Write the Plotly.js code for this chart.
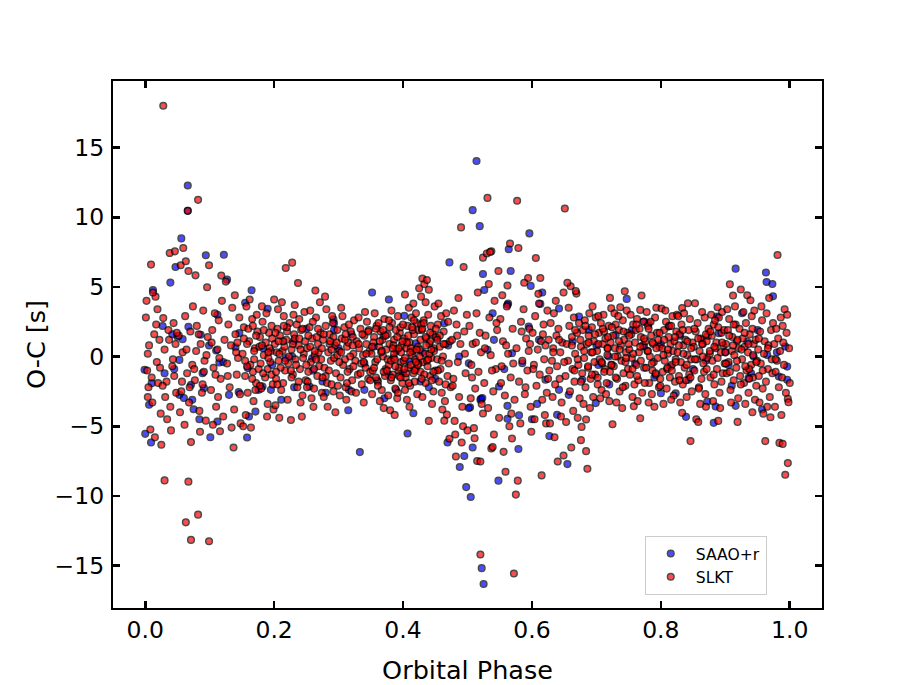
<!DOCTYPE html>
<html><head><meta charset="utf-8">
<script src="https://cdn.plot.ly/plotly-3.0.1.min.js"></script>
<style>html,body{margin:0;padding:0;background:#fff}</style>
</head><body><div id="chart" style="width:913px;height:685px"></div>
<script>
// ---- SAAO+r (blue) ----
const saaoPhase = [
0.066,0.066,0.056,0.047,0.094,0.122,0.039,0.127,0.165,0.012,0.190,0.027,0.067,0.112,0.155,0.292,
0.514,0.508,0.519,0.596,0.564,0.472,0.524,0.567,0.526,0.352,0.378,0.563,0.642,
0.315,0.333,0.416,0.407,0.521,0.504,0.469,0.508,0.495,0.488,0.579,0.562,0.580,0.548,0.498,0.505,0.522,0.525,0.655,0.627,0.600,0.608,
0.000,0.009,0.101,0.158,0.839,0.882,0.957,0.916,0.963,0.964,0.973,0.974,0.747,
0.042,0.050,0.058,0.086,0.110,0.099,0.053,-0.001,0.045,0.115,0.146,0.183,0.228,0.089,0.071,0.091,0.053,0.060,0.073,0.006,0.130,0.161,0.084,0.112,0.197,0.159,0.182,0.231,0.255,0.218,0.259,
0.402,0.293,0.293,0.355,0.275,0.316,0.340,0.371,0.378,0.409,0.453,0.464,0.487,0.502,0.520,0.502,0.539,0.541,0.427,0.389,0.420,
0.562,0.598,0.616,0.673,0.688,0.595,0.611,0.569,0.585,0.531,0.557,0.549,0.523,0.562,0.621,0.642,0.657,0.678,0.699,0.703,0.719,0.730,0.755,0.774,0.639,0.663,0.613,
0.812,0.781,0.887,0.926,0.890,0.864,0.944,0.993,0.996,0.996,0.843,0.800,0.823,0.872,0.916,0.983,0.936,0.905,0.815,0.774,0.934,0.965,0.885,
0.010,0.075,0.121,0.145,0.171,0.176,0.195,0.211,0.140,0.030,
0.230,0.260,0.300,0.340,0.370,0.400,0.430,0.450,0.700,0.760,0.800,0.850,0.900,0.940,0.250,0.280,0.320,0.360,0.390,0.440,0.470,0.720,0.790,0.830,0.870,0.910,0.950,0.980
];
const saaoOC = [
12.28,10.46,8.48,6.43,7.27,7.31,5.31,5.52,4.76,4.77,3.43,2.19,2.14,3.0,3.86,2.67,
14.04,10.51,9.36,8.84,7.7,6.76,5.93,6.14,4.78,4.6,4.1,3.8,3.45,
-3.85,-6.86,-4.07,-5.52,-3.04,-3.64,-6.17,-6.53,-7.14,-7.93,-6.64,-4.47,-4.21,-8.91,-9.37,-10.08,-15.19,-16.33,-7.72,-5.71,-4.5,-3.4,
-5.55,-6.17,-5.79,-5.81,-4.33,-4.76,-3.8,6.31,6.03,5.35,5.21,4.33,4.14,
1.6,1.43,1.25,1.56,0.43,0.79,-0.24,-0.95,-0.9,-0.43,1.68,0.6,0.0,-1.19,-2.03,-2.27,-2.75,-2.98,-3.1,-3.46,-2.75,-4.3,-4.5,-4.66,-0.6,-0.83,-2.15,-2.2,-2.15,-0.12,-0.12,
2.92,2.39,1.91,0.72,-1.79,-2.39,-2.39,-2.99,-1.31,-0.36,1.32,2.39,0.0,-0.48,-3.1,-3.7,3.11,1.2,-1.79,-2.39,0.96,
3.71,5.07,4.6,2.87,1.91,2.15,1.2,0.24,-0.48,0.48,-0.9,-2.15,-2.98,-3.54,-1.67,-2.39,-2.75,-1.67,-3.34,-0.6,0.0,1.56,1.91,2.51,-4.18,1.08,3.78,
2.15,2.39,2.87,3.11,1.68,1.2,0.0,0.72,-0.72,-1.67,-1.67,-2.63,-2.63,-3.23,-3.54,-1.43,-1.55,-0.6,-0.72,0.72,1.08,0.12,-3.59,
-1.91,-3.78,-0.4,-2.55,-3.95,-2.39,-2.39,-3.1,0.67,-1.2,
1.1,-1.0,0.6,-0.5,1.5,-1.2,0.3,-1.6,0.8,-0.5,0.9,-0.9,0.3,-1.2,2.0,-2.6,1.6,-1.7,0.4,-2.2,0.8,-2.0,-1.5,1.5,-0.3,-2.1,1.9,0.3
];

// ---- SLKT (red) ----
const slktPhase = [
0.001,0.002,0.008,0.009,0.016,0.012,0.003,0.005,0.006,0.011,0.014,0.018,0.020,0.022,0.024,0.019,0.004,0.015,
0.028,0.028,0.030,0.025,0.038,0.046,0.034,0.040,0.030,0.033,0.036,0.042,0.044,0.048,0.039,0.047,0.027,0.045,
0.055,0.059,0.063,0.067,0.066,0.067,0.063,0.071,0.071,0.061,0.052,0.056,0.058,0.062,0.065,0.068,0.070,0.073,0.074,0.054,
0.078,0.082,0.082,0.099,0.096,0.099,0.077,0.080,0.084,0.086,0.088,0.090,0.092,0.094,0.097,0.085,0.091,0.079,
0.118,0.125,0.116,0.102,0.104,0.106,0.108,0.110,0.112,0.114,0.117,0.119,0.121,0.123,0.105,0.113,
0.137,0.127,0.129,0.131,0.133,0.135,0.138,0.140,0.142,0.144,0.146,0.148,0.139,0.134,0.147,0.143,
0.152,0.164,0.151,0.153,0.155,0.157,0.159,0.161,0.163,0.166,0.168,0.170,0.172,0.174,0.156,0.162,0.169,0.173,0.158,0.167,
0.200,0.176,0.178,0.180,0.182,0.184,0.186,0.188,0.190,0.192,0.194,0.196,0.198,0.177,0.183,0.187,0.191,0.195,0.199,0.181,0.189,0.197,
0.218,0.201,0.203,0.205,0.207,0.209,0.211,0.213,0.215,0.217,0.219,0.221,0.223,0.224,0.202,0.206,0.210,0.214,0.216,0.220,0.222,0.204,0.212,0.208,
0.228,0.237,0.226,0.243,0.230,0.232,0.227,0.229,0.231,0.233,0.235,0.236,0.238,0.240,0.242,0.244,0.246,0.248,0.249,0.234,0.239,0.245,0.241,0.247,
0.264,0.271,0.261,0.251,0.253,0.255,0.257,0.259,0.262,0.263,0.265,0.267,0.268,0.270,0.272,0.274,0.256,0.258,0.266,0.269,0.273,0.252,0.260,
0.276,0.278,0.280,0.282,0.284,0.286,0.288,0.290,0.292,0.294,0.296,0.298,0.277,0.281,0.285,0.289,0.293,0.297,0.283,0.291,0.295,0.279,
0.301,0.303,0.305,0.307,0.309,0.311,0.313,0.315,0.317,0.319,0.321,0.323,0.324,0.302,0.306,0.310,0.314,0.318,0.322,0.304,0.312,0.320,
0.326,0.328,0.330,0.332,0.334,0.336,0.338,0.340,0.342,0.344,0.346,0.348,0.327,0.331,0.335,0.339,0.343,0.347,0.349,0.341,
0.351,0.353,0.355,0.357,0.359,0.361,0.363,0.365,0.367,0.369,0.371,0.373,0.352,0.356,0.360,0.364,0.368,0.372,0.374,0.354,0.362,0.370,0.358,0.366,
0.380,0.387,0.376,0.378,0.379,0.381,0.383,0.385,0.386,0.388,0.390,0.392,0.393,0.395,0.397,0.398,0.377,0.382,0.384,0.389,0.391,0.394,0.396,0.399,0.386,0.392,0.378,
0.403,0.401,0.402,0.404,0.405,0.407,0.408,0.410,0.411,0.413,0.414,0.416,0.417,0.419,0.420,0.422,0.423,0.424,0.406,0.409,0.412,0.415,0.418,0.421,0.403,0.410,0.416,0.420,
0.425,0.430,0.433,0.437,0.440,0.428,0.440,0.426,0.427,0.429,0.431,0.432,0.434,0.435,0.436,0.438,0.439,0.441,0.442,0.443,0.444,0.446,0.447,0.448,0.449,0.430,0.435,0.445,0.428,0.437,0.442,
0.468,0.472,0.450,0.451,0.453,0.454,0.456,0.457,0.459,0.460,0.462,0.463,0.465,0.466,0.469,0.470,0.471,0.473,0.474,0.455,0.461,0.467,0.458,0.464,
0.480,0.493,0.500,0.481,0.491,0.482,0.490,0.494,0.476,0.478,0.483,0.485,0.487,0.489,0.492,0.495,0.497,0.499,0.486,0.479,
0.510,0.511,0.515,0.520,0.520,0.524,0.524,0.503,0.506,0.508,0.512,0.514,0.517,0.519,0.522,0.516,0.505,0.521,
0.531,0.530,0.537,0.535,0.537,0.539,0.548,0.526,0.528,0.532,0.534,0.536,0.540,0.542,0.544,0.546,0.549,0.541,0.533,
0.556,0.569,0.565,0.559,0.566,0.572,0.575,0.551,0.553,0.555,0.558,0.561,0.563,0.567,0.570,0.573,0.562,0.554,0.568,
0.577,0.579,0.578,0.594,0.576,0.580,0.583,0.585,0.587,0.589,0.591,0.593,0.596,0.598,0.582,0.588,0.595,0.599,
0.606,0.613,0.615,0.620,0.622,0.601,0.603,0.605,0.607,0.609,0.611,0.612,0.614,0.616,0.618,0.619,0.621,0.623,0.624,0.604,0.610,
0.628,0.635,0.640,0.649,0.649,0.626,0.627,0.629,0.631,0.633,0.634,0.636,0.638,0.639,0.641,0.643,0.644,0.646,0.647,0.632,0.637,0.645,
0.651,0.661,0.660,0.669,0.655,0.668,0.652,0.654,0.656,0.658,0.659,0.662,0.663,0.665,0.666,0.667,0.670,0.672,0.673,0.674,0.657,0.664,0.671,0.653,
0.676,0.677,0.684,0.684,0.686,0.676,0.678,0.679,0.681,0.682,0.683,0.685,0.687,0.688,0.689,0.691,0.692,0.693,0.695,0.696,0.697,0.699,0.680,0.690,0.694,0.698,
0.721,0.723,0.701,0.702,0.704,0.705,0.707,0.708,0.710,0.711,0.713,0.714,0.716,0.717,0.719,0.720,0.722,0.724,0.703,0.706,0.709,0.712,0.715,0.718,0.725,0.721,
0.737,0.744,0.726,0.727,0.729,0.730,0.732,0.733,0.735,0.736,0.738,0.739,0.741,0.742,0.743,0.745,0.746,0.748,0.749,0.728,0.731,0.734,0.740,0.747,0.745,
0.758,0.768,0.768,0.770,0.751,0.752,0.754,0.755,0.757,0.759,0.760,0.762,0.763,0.765,0.766,0.769,0.771,0.772,0.774,0.753,0.756,0.761,0.764,0.767,0.773,
0.776,0.777,0.779,0.780,0.782,0.783,0.785,0.786,0.788,0.789,0.791,0.792,0.794,0.795,0.797,0.798,0.778,0.781,0.784,0.787,0.790,0.793,0.796,0.799,0.801,
0.802,0.803,0.805,0.806,0.808,0.809,0.811,0.812,0.814,0.815,0.817,0.818,0.820,0.821,0.823,0.824,0.804,0.807,0.810,0.813,0.816,0.819,0.822,0.825,
0.833,0.833,0.842,0.846,0.826,0.828,0.829,0.831,0.832,0.834,0.835,0.837,0.838,0.840,0.841,0.843,0.844,0.845,0.847,0.849,0.827,0.830,0.836,0.839,0.848,
0.853,0.855,0.858,0.851,0.852,0.854,0.856,0.857,0.859,0.860,0.862,0.863,0.865,0.866,0.868,0.869,0.871,0.872,0.874,0.861,0.864,0.867,0.870,0.873,
0.888,0.889,0.876,0.877,0.879,0.880,0.882,0.883,0.885,0.886,0.887,0.890,0.891,0.893,0.894,0.896,0.897,0.899,0.878,0.881,0.884,0.892,0.895,0.898,
0.907,0.912,0.924,0.919,0.901,0.902,0.904,0.905,0.906,0.908,0.910,0.911,0.913,0.914,0.916,0.917,0.918,0.920,0.921,0.923,0.903,0.909,0.915,0.922,
0.934,0.939,0.926,0.927,0.929,0.930,0.932,0.933,0.935,0.936,0.938,0.940,0.941,0.943,0.944,0.946,0.947,0.949,0.928,0.931,0.937,0.942,0.945,0.948,
0.962,0.970,0.951,0.952,0.954,0.955,0.957,0.958,0.960,0.961,0.963,0.964,0.966,0.967,0.969,0.971,0.972,0.974,0.953,0.956,0.959,0.965,0.968,0.973,
0.981,0.984,0.989,0.997,0.993,0.997,0.998,0.976,0.978,0.979,0.980,0.982,0.983,0.985,0.986,0.988,0.990,0.991,0.992,0.994,0.995,0.996,0.999,1.000,0.977,0.987,0.989,
0.153,0.158,0.160,0.166,0.169,0.172,0.178,0.181,0.184,0.190,
0.193,0.196,0.202,0.205,0.208,0.214,0.217,0.220,0.226,0.229,
0.232,0.238,0.241,0.244,0.250,0.253,0.256,0.262,0.265,0.268,
0.274,0.277,0.280,0.286,0.289,0.292,0.298,0.301,0.304,0.310,
0.313,0.316,0.322,0.155,0.167,0.179,0.191,0.203,0.215,0.227,
0.239,0.251,0.263,0.275,0.287,0.299,0.311,0.323,0.171,0.207,
0.331,0.334,0.337,0.339,0.343,0.346,0.349,0.352,0.355,0.358,
0.361,0.364,0.367,0.370,0.373,0.376,0.379,0.382,0.385,0.388,
0.391,0.394,0.397,0.400,0.403,0.406,0.409,0.412,0.415,0.418,
0.421,0.424,0.427,0.430,0.433,0.436,0.439,0.442,0.445,0.448,
0.451,0.454,0.457,0.460,0.463,0.466,0.369,0.381,0.393,0.405,
0.417,0.429,0.441,0.453,0.375,0.387,0.399,0.411,0.423,0.435,
0.447,0.384,0.396,0.408,0.420,0.432,0.444,0.402,0.414,0.426,
0.662,0.666,0.667,0.671,0.675,0.676,0.681,0.683,0.687,0.688,
0.693,0.694,0.698,0.702,0.703,0.708,0.710,0.712,0.717,0.718,
0.723,0.724,0.729,0.730,0.735,0.736,0.741,0.742,0.746,0.750,
0.751,0.756,0.757,0.762,0.763,0.768,0.769,0.774,0.775,0.780,
0.781,0.786,0.787,0.792,0.793,0.798,0.799,0.804,0.805,0.810,
0.811,0.816,0.817,0.822,0.823,0.828,0.829,0.834,0.835,0.840,
0.841,0.846,0.847,0.852,0.853,0.858,0.859,0.864,0.865,0.870,
0.871,0.876,0.877,0.882,0.883,0.888,0.889,0.894,0.895,0.900,
0.901,0.906,0.907,0.912,0.913,0.918,0.919,0.924,0.925,0.930,
0.931,0.936,0.937,0.942,0.943,0.948,0.952,0.958,0.966,0.978,
0.004,0.010,0.017,0.023,0.031,0.037,0.043,0.049,0.057,0.064,
0.069,0.076,0.083,0.089,0.095,0.103,0.109,0.115,0.128,0.141,
0.477,0.484,0.496,0.507,0.513,0.527,0.538,0.545,0.552,0.560,
0.571,0.584,0.590,0.597,0.602,0.617,0.625,0.633,0.642,0.650
];
const slktOC = [
2.8,4.0,-5.24,6.6,4.3,4.6,-1.0,-2.2,0.8,-3.3,1.6,-0.4,-1.9,1.2,-4.1,3.4,-2.9,-5.8,
18.0,2.76,-8.89,-6.33,7.43,7.55,-4.5,-5.3,0.5,-1.8,1.9,-0.7,2.4,-2.6,-3.6,0.9,-2.1,-1.4,
6.55,7.79,6.84,6.14,10.46,-8.98,-11.9,-13.16,-6.14,-4.9,1.5,-2.5,0.3,2.9,-1.2,-3.3,1.8,-0.6,3.6,-4.0,
5.83,11.25,-11.35,-13.26,4.97,6.55,-1.7,2.2,-3.9,0.9,-2.6,3.3,-0.3,-4.6,1.4,-5.4,-1.1,0.4,
5.81,5.38,-5.36,-2.4,1.9,-0.8,3.1,-3.6,0.5,2.6,-1.6,4.0,-4.3,1.2,-4.9,-2.9,
-6.53,-0.5,2.3,-2.2,0.8,3.5,-3.8,1.6,-1.3,-0.1,2.8,-4.8,4.4,-5.1,-2.7,1.0,
-5.0,-5.1,0.2,2.1,-1.4,3.6,-2.6,1.1,-0.6,2.7,-3.2,0.6,-1.9,1.8,-4.2,4.1,-0.2,3.0,0.9,-1.1,
4.1,-0.9,1.4,-2.3,2.5,0.1,-1.5,3.1,-3.4,1.7,-0.4,2.2,-2.0,0.7,-1.2,1.0,-0.1,0.4,-3.8,3.6,-4.3,1.3,
6.36,0.9,-1.6,2.0,-0.3,1.5,-2.4,0.4,2.9,-1.0,1.2,-3.1,0.0,2.4,-3.5,3.4,-0.8,-1.9,0.7,1.8,-0.5,0.3,3.9,-4.4,
6.74,5.28,-4.55,-4.31,3.0,3.7,0.5,-1.3,1.6,-0.2,2.3,-2.2,0.8,-0.9,1.9,-2.8,0.2,1.1,-1.7,-0.6,2.7,-0.1,-3.3,3.2,
4.74,3.9,-3.61,0.6,-1.1,2.1,-0.4,1.3,-2.3,0.1,2.8,-1.4,0.9,-0.7,1.7,-2.6,3.3,-3.0,1.4,0.3,-0.2,-1.8,2.5,
1.2,-0.8,2.2,-1.9,0.3,1.6,-0.3,2.9,-2.5,0.8,-1.2,1.9,-2.9,3.4,-1.0,0.5,-0.1,1.0,-3.6,2.4,-4.0,4.3,
0.4,-1.5,1.3,-0.6,2.1,-2.2,0.7,1.0,-0.9,1.8,-1.7,0.2,2.6,-2.8,2.9,-0.2,-1.1,0.0,1.4,3.5,-3.1,-2.5,
-0.3,1.1,-1.3,0.6,2.0,-2.0,0.1,1.5,-0.8,2.5,-1.6,0.4,-2.6,2.8,-0.5,-3.3,0.9,1.9,-1.1,3.2,
0.2,-1.0,1.4,-0.4,2.2,-1.8,0.7,1.8,-2.4,0.0,2.7,-0.9,-2.7,3.1,-0.2,-3.2,1.2,-1.4,0.5,1.0,2.4,-3.7,-1.5,0.3,
-3.85,-4.19,1.6,-0.6,0.9,-1.7,2.4,-0.1,1.2,-2.3,0.5,2.9,-1.0,1.7,-0.4,0.8,-2.8,3.3,-1.3,1.9,-3.0,-0.8,2.1,-1.9,0.2,-2.6,2.6,
4.45,-0.3,1.3,-1.5,0.6,2.2,-0.8,1.0,-2.1,2.8,0.1,-1.2,1.6,-0.2,3.1,-2.7,0.7,1.9,-3.1,3.5,-0.6,0.4,-1.8,2.4,-2.4,-3.6,3.8,-0.9,
4.9,5.6,5.2,5.5,4.8,4.3,-4.62,0.5,-1.1,1.9,-0.4,2.6,0.2,-1.9,1.3,-0.7,3.0,0.9,-1.4,2.2,-0.1,1.6,-2.5,0.6,3.6,-2.9,3.9,-3.4,2.3,-0.3,1.1,
-4.17,-5.9,-1.0,1.4,-0.2,2.3,-1.8,0.7,2.9,-2.6,0.0,1.8,-3.2,0.9,-1.4,2.5,-0.5,1.1,-2.2,3.8,-3.8,3.1,-0.9,-4.6,
-4.62,-5.0,-5.3,-5.6,-6.17,-7.17,9.27,6.43,1.2,-1.6,2.3,-0.4,-2.9,0.9,-3.6,1.8,-1.2,3.0,4.2,3.3,
-5.14,-5.86,-7.5,-7.53,-14.21,-4.09,7.1,2.2,-0.6,0.9,-2.3,3.1,-1.1,1.7,-3.4,4.6,-3.0,0.3,
11.39,7.4,7.55,7.5,-6.6,-6.5,6.14,-1.9,1.5,-3.7,2.8,0.1,-2.5,4.0,-0.9,1.9,-4.4,-5.6,5.2,
-6.84,-5.88,-5.0,-8.27,8.12,-15.57,-9.91,2.7,-0.7,1.1,-2.8,3.6,0.2,-1.5,2.0,-3.1,5.1,4.4,-4.1,
11.18,7.79,-8.91,5.64,0.6,-1.8,2.5,-0.3,3.4,-2.7,1.3,-1.0,2.0,-3.6,-4.8,5.3,0.4,-5.4,
7.07,5.64,-8.53,-4.2,-4.8,1.7,-0.6,2.9,-2.1,0.5,3.8,-1.3,1.1,-3.1,2.3,-0.2,0.8,-2.6,3.3,-4.5,4.5,
-4.8,-5.79,-7.53,-7.1,4.6,1.2,-1.0,2.4,-0.3,0.6,3.1,-2.0,1.5,-0.7,2.0,-1.6,0.3,-3.3,1.0,-2.9,4.0,-4.3,
10.63,-6.53,5.05,4.52,5.3,4.7,-1.4,0.9,-0.3,2.2,-2.5,1.4,-0.9,2.8,-1.8,0.2,1.7,-0.6,2.4,-3.0,3.5,-3.9,-4.4,-4.7,
-6.0,-5.05,-4.52,-6.79,-8.05,0.7,-1.2,1.9,-0.1,2.6,-2.2,0.9,-0.8,1.5,3.1,-1.6,0.3,2.1,-2.9,1.1,-0.4,2.8,-3.4,-3.7,3.6,-1.3,
4.21,3.47,0.4,-1.5,1.7,-0.2,2.4,-2.4,0.9,3.0,-0.9,1.3,-1.9,0.1,2.2,-3.2,1.0,-0.6,2.9,-3.0,-0.5,1.8,-2.7,0.6,-4.86,-1.1,
3.54,4.69,1.5,-0.7,0.6,2.3,-1.6,0.0,1.9,-2.5,0.8,-0.3,2.6,-1.2,1.2,-2.1,0.3,1.7,-0.9,3.1,-3.3,2.9,-3.7,3.3,-0.4,
-3.57,-4.43,3.35,4.38,0.5,-1.3,1.6,-0.1,2.3,-2.0,1.0,-0.6,2.7,-1.7,0.3,1.4,-2.6,0.8,-0.8,3.0,-2.9,1.9,-3.2,2.0,2.5,
1.1,-0.8,0.4,2.2,-1.9,0.0,1.5,-2.7,0.9,-0.4,2.8,-1.3,1.7,-0.1,-2.2,0.7,3.2,-3.3,2.5,-1.0,-3.6,3.5,1.2,-1.6,3.45,
0.6,-1.1,1.9,-0.3,2.5,-2.3,0.2,1.4,-1.5,0.9,-0.6,2.9,-2.8,1.1,-0.2,1.8,-3.4,3.3,-0.9,2.2,-3.1,0.4,-1.8,3.0,
-4.04,3.49,3.83,-6.07,0.3,-1.4,1.6,-0.4,2.3,-2.0,0.8,-0.8,1.2,-2.9,0.1,1.9,-1.3,2.7,-0.2,1.0,2.9,-3.3,3.1,-1.7,-2.5,
3.83,-4.5,-4.7,0.7,-1.0,1.8,-0.2,2.4,-2.2,0.4,1.3,-1.6,0.9,-0.5,2.8,-2.7,1.1,-0.1,2.0,-3.4,3.2,-1.1,-3.6,1.5,
3.54,-4.62,0.2,-1.5,1.5,-0.3,2.3,-2.0,0.6,1.0,-0.9,2.8,-2.6,0.3,1.7,-1.2,0.8,-0.5,3.0,-3.2,2.6,-3.7,3.2,1.9,
5.19,4.38,4.81,-4.69,0.9,-1.2,1.9,-0.4,2.7,-2.4,0.4,1.4,-1.7,0.1,2.3,-0.8,1.1,-3.0,0.6,-1.4,3.4,-3.3,3.6,2.0,
4.4,4.04,-0.2,1.3,-1.9,0.7,2.4,-1.0,0.3,-2.6,1.6,-0.6,2.9,-1.5,0.9,-3.1,1.2,-0.3,3.2,-3.4,-0.9,-4.0,3.3,-2.1,
-6.07,-4.36,0.5,-1.4,1.8,-0.5,2.6,-2.3,0.2,1.1,-1.8,3.1,-0.9,0.8,-2.9,1.9,-0.2,2.4,-3.3,3.6,-4.1,-3.6,4.2,-1.2,
7.29,-6.2,-6.27,-7.65,-8.48,-3.04,-3.28,0.9,-1.1,2.0,-0.3,1.3,-2.2,0.4,2.8,-1.5,1.0,-0.6,3.4,-2.6,1.7,3.0,0.6,-1.9,-3.6,-4.2,2.2,
1.3,-0.7,2.0,-1.6,0.4,1.5,-2.1,0.8,1.9,-0.9,
0.6,-1.3,1.7,-2.0,0.2,1.1,-0.3,2.1,-1.0,0.9,
1.3,-1.8,0.5,2.0,-0.6,1.5,0.7,-0.9,-0.2,2.0,
0.6,1.6,-1.4,0.9,-2.0,1.4,0.1,-0.4,0.3,1.2,
-1.9,2.3,0.8,-0.3,2.2,-0.5,0.3,-1.1,2.2,-1.5,
1.3,-2.2,0.4,-1.5,1.1,-2.1,1.6,-0.7,-2.4,1.1,
0.9,-1.2,1.6,-0.4,0.2,1.8,-1.7,0.7,-0.8,2.0,
-2.1,1.1,0.4,-1.1,1.5,-0.2,2.1,-1.5,0.8,-0.7,
1.4,-1.4,0.3,2.3,-0.1,1.0,-1.9,0.6,1.9,-1.0,
0.5,-0.5,1.2,2.0,-1.3,0.8,-0.2,1.7,-1.7,0.4,
2.0,-1.0,1.5,-0.3,0.9,-2.0,1.9,-0.3,0.6,-1.2,
2.6,-1.6,0.2,1.2,-1.0,-0.2,1.1,0.3,-0.6,1.4,
-1.1,0.6,-1.5,1.5,-0.4,2.4,0.5,-0.9,2.1,0.0,
0.8,-1.0,1.9,-0.2,1.2,-1.8,0.4,2.2,-0.7,1.0,
-1.3,0.3,1.6,-2.0,0.9,-0.4,2.0,-1.1,0.6,1.4,
-0.6,2.1,0.0,-1.5,1.1,0.5,-2.2,1.8,-0.1,0.9,
1.5,-0.9,0.2,2.3,-1.4,0.7,-0.3,1.3,-1.9,0.4,
2.0,-0.5,1.0,-1.2,0.6,1.7,-2.1,0.1,1.2,-0.8,
0.5,2.2,-1.0,1.4,-0.4,0.8,-1.7,1.9,0.2,-0.6,
1.1,-1.5,0.6,2.0,-0.2,1.3,-2.3,0.9,0.0,1.6,
-0.9,0.4,1.8,-1.3,0.7,-0.1,2.1,-1.8,1.0,0.3,
-0.5,1.5,-1.1,0.8,2.3,-0.3,1.2,-2.0,0.5,1.7,
-0.7,0.9,-1.6,2.0,0.1,-0.4,1.3,-1.0,0.6,-0.2,
0.2,-1.5,2.3,-0.8,-2.9,1.2,-0.2,1.7,-1.8,0.5,
-2.2,-0.9,1.6,-2.0,0.1,1.0,-1.3,-0.1,-1.4,0.3,
-2.1,1.5,0.2,-1.5,1.0,0.6,-1.0,2.4,-1.9,0.8,
-0.5,1.8,-2.2,0.9,-0.9,1.6,-1.6,0.3,1.2,-0.4
];

const seriesNames = ['SAAO+r', 'SLKT'];
const xTickVals = [0.0, 0.2, 0.4, 0.6, 0.8, 1.0];
const xTickText = ['0.0', '0.2', '0.4', '0.6', '0.8', '1.0'];
const yTickVals = [-15, -10, -5, 0, 5, 10, 15];

function trace(x, y, name, color) {
  return {
    type: 'scatter', mode: 'markers', x: x, y: y, name: name,
    marker: {size: 6.6, color: color, opacity: 0.7, line: {color: '#000', width: 1.5}},
    hoverinfo: 'skip'
  };
}
const data = [
  trace(saaoPhase, saaoOC, seriesNames[0], 'rgb(0,0,255)'),
  trace(slktPhase, slktOC, seriesNames[1], 'rgb(255,0,0)')
];
const axisCommon = {
  ticks: 'inside', ticklen: 7, tickwidth: 2.6, tickcolor: '#000',
  showline: true, linewidth: 2.2, linecolor: '#000', mirror: 'ticks',
  showgrid: false, zeroline: false,
  tickfont: {size: 23.5, color: '#000'}
};
const layout = {
  width: 913, height: 685,
  margin: {l: 113, r: 91, t: 81, b: 77},
  paper_bgcolor: '#fff', plot_bgcolor: '#fff',
  font: {family: 'DejaVu Sans, sans-serif', size: 23.5, color: '#000'},
  showlegend: true,
  legend: {x: 0.75, y: 0.137, xanchor: 'left', yanchor: 'top',
           bgcolor: 'rgba(255,255,255,0.8)', bordercolor: '#cccccc', borderwidth: 1,
           font: {size: 15.6, color: '#000'}, itemwidth: 40},
  xaxis: Object.assign({}, axisCommon, {
    range: [-0.05, 1.05], tickvals: xTickVals, ticktext: xTickText,
    ticklabelstandoff: 0,
    title: {text: 'Orbital Phase', font: {size: 25.5}, standoff: 18}
  }),
  yaxis: Object.assign({}, axisCommon, {
    range: [-18.05, 19.78], tickvals: yTickVals,
    ticklabelstandoff: 2,
    title: {text: 'O-C [s]', font: {size: 25.5}, standoff: 2}
  })
};
Plotly.newPlot('chart', data, layout, {displayModeBar: false, staticPlot: true});
</script></body></html>
